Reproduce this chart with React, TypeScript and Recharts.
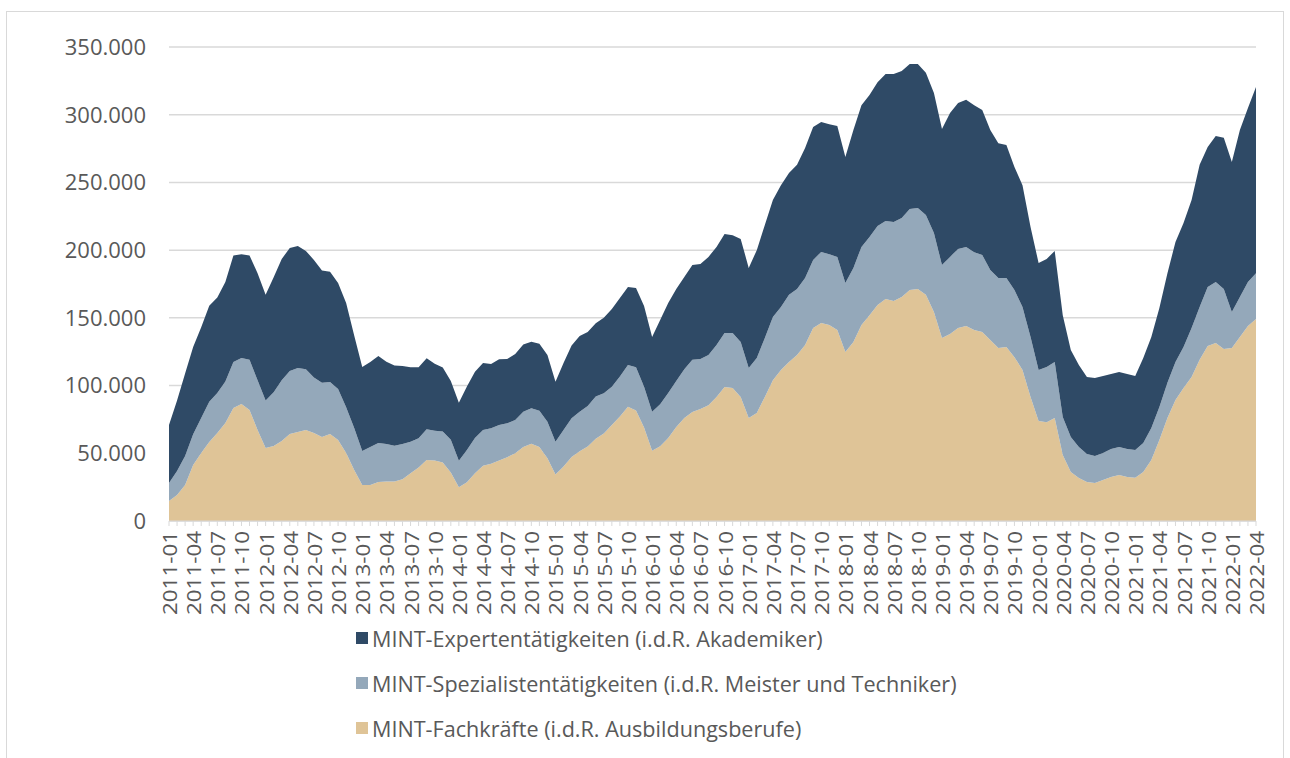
import React from 'react';
import { AreaChart, Area, XAxis, YAxis, CartesianGrid } from 'recharts';

// Monatswerte 2011-01 bis 2022-04
const firstYear = 2011;
const monthCount = 136;
const months: string[] = [];
for (let i = 0; i < monthCount; i++) {
  const y = firstYear + Math.floor(i / 12);
  const m = (i % 12) + 1;
  months.push(`${y}-${m < 10 ? '0' + m : m}`);
}

const fachkraefte = [
  14800, 19200, 26600, 41400, 50200, 58300, 65000, 72400, 83500, 86400,
  82000, 67200, 53900, 55400, 59000, 64300, 65700, 67200, 65000, 62000,
  64300, 59800, 50200, 37700, 26600, 26600, 28800, 29200, 29200, 30800,
  35300, 39500, 45000, 44600, 43200, 35800, 25000, 28600, 35300, 40800,
  42300, 44600, 47100, 50100, 54600, 57100, 54700, 46400, 34300, 40300,
  47200, 51500, 55000, 60800, 64600, 70900, 77200, 84300, 81600, 69000,
  51800, 55200, 61300, 69400, 76000, 80500, 82700, 85500, 91600, 99000,
  98200, 91600, 76000, 79800, 91600, 104000, 111500, 117400, 122600, 130000,
  142500, 146200, 144800, 141000, 124800, 132200, 144800, 152000, 159500, 164000,
  162500, 165400, 170600, 171300, 167000, 154400, 135200, 138000, 142500, 144000,
  141000, 139600, 133700, 127800, 128500, 121000, 111500, 91600, 73900, 73000,
  76000, 48700, 36200, 31800, 28800, 28000, 30300, 32500, 34000, 32500,
  32000, 36200, 45000, 59800, 76000, 89400, 98200, 106300, 119000, 129200,
  131500, 127000, 127800, 135900, 144000, 149200,
];

const spezialisten = [
  13200, 17800, 21400, 22600, 25800, 29700, 29500, 30600, 33900, 34000,
  37000, 36800, 35100, 39600, 45000, 46500, 47300, 44800, 41000, 40000,
  38400, 37700, 33800, 31000, 25100, 28100, 28800, 27700, 26300, 26100,
  23200, 21600, 22800, 22000, 22800, 24200, 19500, 23900, 25900, 26400,
  26200, 26300, 25000, 24500, 26100, 26100, 26800, 26900, 24300, 26900,
  28600, 29200, 29900, 31200, 29800, 28200, 29500, 30900, 32000, 30100,
  28800, 31100, 33200, 34000, 36000, 38500, 36900, 37100, 38400, 39800,
  40600, 40600, 37000, 40600, 43600, 46700, 46500, 49600, 48700, 49500,
  50300, 52500, 52200, 54000, 51000, 54700, 57600, 57700, 58400, 57600,
  58300, 58400, 59800, 59900, 59000, 58300, 53800, 57000, 58400, 58400,
  57500, 56900, 51700, 51700, 51000, 49600, 46500, 44300, 37600, 40700,
  41400, 28100, 25800, 22900, 20700, 20000, 19900, 20700, 20700, 20700,
  20400, 21400, 23700, 24400, 26000, 28000, 30300, 36200, 39000, 43600,
  45000, 44300, 26600, 29500, 32500, 33800,
];

const experten = [
  42900, 52000, 61000, 64500, 67000, 71000, 70500, 73500, 78600, 76600,
  77000, 79000, 78000, 85000, 89500, 90800, 90000, 87400, 86800, 83000,
  81300, 78300, 77000, 68300, 62000, 62700, 64300, 60600, 59300, 57500,
  55100, 52500, 52300, 49600, 47300, 43300, 42800, 46900, 49000, 49400,
  47500, 48600, 47500, 48700, 49700, 49100, 49300, 49300, 44200, 49400,
  53700, 55900, 54700, 54000, 55600, 57500, 58000, 57600, 58400, 59700,
  55300, 62100, 66500, 67900, 68200, 70000, 70200, 72400, 72400, 73200,
  72200, 76100, 73900, 79600, 83400, 86300, 90000, 90000, 91700, 96000,
  98200, 96000, 96000, 96700, 93000, 101900, 104600, 104900, 106100, 108400,
  109200, 108500, 107100, 106300, 104900, 103300, 100500, 106300, 107800, 108600,
  108500, 107000, 103400, 99500, 98200, 90800, 90000, 81100, 79000, 79800,
  82000, 75200, 64300, 60500, 56800, 57600, 56800, 55300, 55300, 55300,
  54600, 62800, 67200, 73100, 81000, 88600, 91500, 94500, 105000, 103400,
  107800, 111600, 110600, 123400, 128500, 137500,
];

const yTicks = [0, 50000, 100000, 150000, 200000, 250000, 300000, 350000];

const series = [
  { key: 'experten', name: 'MINT-Expertentätigkeiten (i.d.R. Akademiker)', color: '#2F4A66' },
  { key: 'spezialisten', name: 'MINT-Spezialistentätigkeiten (i.d.R. Meister und Techniker)', color: '#94A8BA' },
  { key: 'fachkraefte', name: 'MINT-Fachkräfte (i.d.R. Ausbildungsberufe)', color: '#DFC497' },
];

const data = months.map((month, i) => ({
  month,
  fachkraefte: fachkraefte[i],
  spezialisten: spezialisten[i],
  experten: experten[i],
}));

const fmt = (v: number) => String(v).replace(/\B(?=(\d{3})+(?!\d))/g, '.');

const FONT = '"Open Sans", sans-serif';

const MonthTick = (props: any) => {
  const { x, y, payload, index } = props;
  if (index % 3 !== 0) return <g />;
  return (
    <text
      transform={`translate(${x},${y}) rotate(-90) scale(1.12,1)`}
      textAnchor="end"
      dominantBaseline="central"
      fill="#595959"
      fontSize={20}
      fontFamily={FONT}
    >
      {payload.value}
    </text>
  );
};

export default function App() {
  return (
    <div
      style={{
        position: 'absolute',
        left: 0,
        top: 0,
        width: 1290,
        height: 758,
        overflow: 'hidden',
        background: '#fff',
      }}
    >
      <div
        style={{
          position: 'absolute',
          left: 6,
          top: 11,
          width: 1276,
          height: 800,
          border: '1px solid #d9d9d9',
        }}
      />
      <div style={{ position: 'absolute', left: 0, top: 0 }}>
        <AreaChart
          width={1290}
          height={640}
          data={data}
          margin={{ top: 47, right: 34, bottom: 0, left: 0 }}
        >
          <CartesianGrid vertical={false} stroke="#d9d9d9" strokeWidth={1.5} />
          <XAxis
            dataKey="month"
            interval={0}
            height={119}
            tick={<MonthTick />}
            tickSize={5}
            tickMargin={5}
            tickLine={{ stroke: '#d9d9d9' }}
            axisLine={{ stroke: '#d9d9d9' }}
          />
          <YAxis
            width={169}
            domain={[0, 350000]}
            ticks={yTicks}
            tickFormatter={fmt}
            axisLine={false}
            tickLine={false}
            tickSize={0}
            tickMargin={23}
            tick={{ fill: '#595959', fontSize: 22, fontFamily: FONT }}
          />
          <Area
            type="linear"
            dataKey="fachkraefte"
            stackId="mint"
            fill="#DFC497"
            fillOpacity={1}
            stroke="none"
            isAnimationActive={false}
          />
          <Area
            type="linear"
            dataKey="spezialisten"
            stackId="mint"
            fill="#94A8BA"
            fillOpacity={1}
            stroke="none"
            isAnimationActive={false}
          />
          <Area
            type="linear"
            dataKey="experten"
            stackId="mint"
            fill="#2F4A66"
            fillOpacity={1}
            stroke="none"
            isAnimationActive={false}
          />
        </AreaChart>
      </div>
      {series.map((s, i) => (
        <div
          key={s.key}
          style={{
            position: 'absolute',
            left: 356,
            top: 624 + i * 45,
            height: 28,
            display: 'flex',
            alignItems: 'center',
            fontFamily: FONT,
            fontSize: 21.6,
            color: '#595959',
            whiteSpace: 'nowrap',
          }}
        >
          <span
            style={{
              display: 'inline-block',
              width: 12,
              height: 12,
              background: s.color,
              marginRight: 4,
            }}
          />
          {s.name}
        </div>
      ))}
    </div>
  );
}
